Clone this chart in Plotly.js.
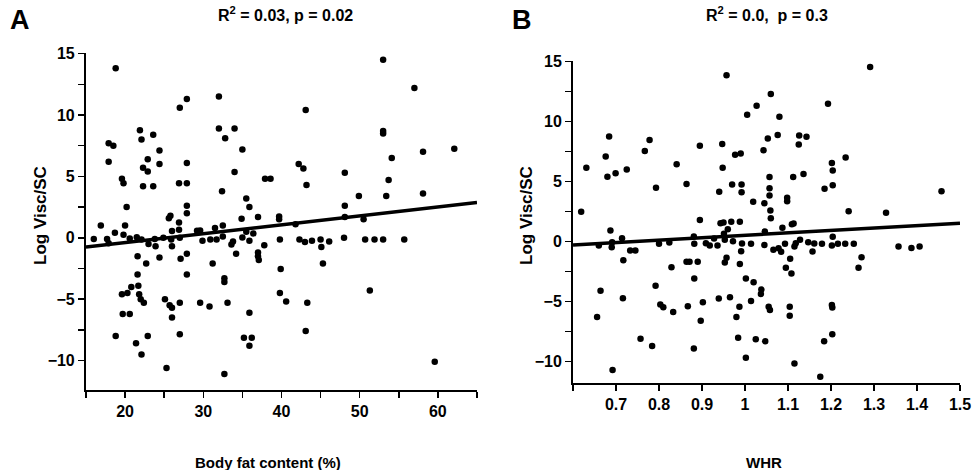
<!DOCTYPE html>
<html><head><meta charset="utf-8">
<script src="https://cdn.plot.ly/plotly-3.0.1.min.js"></script>
<style>body{margin:0;background:#fff}#c{width:978px;height:470px}</style>
</head><body><div id="c"></div>
<script>
const fatX=[18.8,53.0,57.0,32.0,27.9,27.0,43.1,21.9,22.1,23.6,32.0,34.0,32.8,17.9,18.5,35.0,24.4,53.0,53.0,58.1,62.1,17.9,22.9,24.4,27.9,22.3,22.9,54.1,42.2,42.8,34.0,48.1,19.6,19.8,26.9,27.9,37.9,38.6,53.7,22.3,23.6,43.2,32.4,58.1,49.9,53.4,35.5,20.2,27.9,27.9,35.9,48.1,25.8,25.6,34.9,37.0,39.7,50.5,48.1,16.9,20.0,26.9,32.5,26.9,26.0,31.5,29.2,35.5,36.4,39.7,41.8,16.0,17.7,18.7,19.8,20.6,21.5,22.1,23.8,24.9,27.0,25.9,29.6,29.9,30.9,31.7,32.5,33.8,33.6,35.0,35.9,39.8,42.3,43.0,43.9,45.0,46.1,48.0,50.7,51.9,53.0,55.7,17.9,23.0,23.9,26.0,45.1,37.8,34.2,21.6,24.4,27.9,27.1,37.0,37.0,37.1,22.7,31.2,45.3,39.9,27.9,21.6,32.7,32.7,20.8,20.3,19.6,21.7,21.8,22.0,22.4,25.1,25.7,26.0,26.0,27.0,29.6,30.8,33.1,39.8,40.6,43.3,35.9,51.3,19.7,20.6,18.8,21.4,22.9,22.1,27.0,35.2,36.2,35.9,43.1,25.3,32.7,59.6];
const fatY=[13.8,14.5,12.2,11.5,11.3,10.6,10.4,8.75,8.0,8.4,8.9,8.9,8.1,7.7,7.5,7.2,7.1,8.7,8.5,7.0,7.25,6.2,6.4,6.0,6.1,5.7,5.4,6.5,6.0,5.65,5.35,5.3,4.8,4.45,4.45,4.45,4.8,4.8,4.7,4.2,4.2,4.3,3.8,3.6,3.4,3.4,3.2,2.5,2.6,2.0,2.5,2.6,1.8,1.6,1.55,1.7,1.74,1.5,1.7,1.0,1.0,1.25,1.0,0.65,0.55,0.8,0.57,0.5,0.35,1.5,1.1,-0.1,-0.1,0.4,0.25,-0.05,0.05,-0.15,-0.1,0,0,-0.15,0.6,-0.25,-0.15,-0.15,0.1,-0.3,-0.55,0.03,-0.25,-0.15,-0.15,-0.35,-0.25,-0.15,-0.3,0,-0.15,-0.15,-0.15,-0.15,-0.45,-0.5,-0.7,-0.7,-0.75,-0.6,-1.3,-1.5,-1.6,-1.3,-1.7,-1.2,-1.5,-1.8,-2.1,-2.1,-2.1,-2.55,-3.0,-3.0,-3.3,-3.6,-4.0,-4.5,-4.6,-3.9,-4.6,-5.0,-5.3,-5.0,-5.5,-5.7,-6.5,-5.3,-5.3,-5.6,-5.3,-4.5,-5.2,-5.3,-6.1,-4.3,-6.2,-6.2,-8.0,-8.6,-8.0,-9.5,-7.85,-8.15,-8.15,-8.8,-7.6,-10.6,-11.1,-10.1];
const fitA_X=[15,65], fitA_Y=[-0.76,2.88];
const whrX=[0.619,0.631,0.656,0.664,0.66,0.676,0.680,0.684,0.687,0.691,0.69,0.692,0.699,0.714,0.717,0.716,0.725,0.733,0.745,0.757,0.767,0.778,0.784,0.792,0.793,0.800,0.803,0.810,0.829,0.833,0.841,0.824,0.864,0.867,0.864,0.871,0.890,0.881,0.882,0.882,0.881,0.895,0.895,0.897,0.902,0.909,0.918,0.928,0.936,0.939,0.940,0.947,0.948,0.943,0.950,0.951,0.953,0.953,0.957,0.957,0.960,0.965,0.968,0.970,0.972,0.977,0.980,0.984,0.987,0.988,0.988,0.990,0.991,0.992,0.992,0.993,1.002,1.002,1.005,1.014,1.014,1.020,1.019,1.025,1.027,1.037,1.038,1.043,1.045,1.046,1.045,1.047,1.053,1.055,1.058,1.057,1.057,1.057,1.059,1.060,1.060,1.066,1.076,1.078,1.080,1.084,1.087,1.093,1.098,1.098,1.095,1.105,1.104,1.104,1.108,1.109,1.112,1.113,1.115,1.115,1.118,1.126,1.125,1.128,1.136,1.143,1.147,1.157,1.161,1.175,1.179,1.184,1.185,1.193,1.202,1.204,1.204,1.204,1.202,1.202,1.203,1.203,1.216,1.233,1.234,1.241,1.253,1.264,1.271,1.291,1.328,1.357,1.387,1.406,1.457];
const whrY=[2.47,6.14,-6.28,-4.1,-0.33,7.08,5.39,8.75,0.92,-0.06,-0.47,-10.7,5.69,0.28,-1.56,-4.72,6.0,-0.75,-0.75,-8.1,7.53,8.44,-8.7,-3.69,4.47,-0.19,-5.25,-5.47,-2.14,-5.86,6.44,-0.08,4.78,-5.39,-1.69,-1.69,-1.69,0.42,-0.19,-3.08,-8.9,7.97,1.8,-6.6,-5.06,-0.14,-0.33,0.25,-0.33,-4.75,4.14,8.11,6.14,1.53,1.58,0.64,0.14,-1.75,-1.36,13.83,1.03,-4.64,1.64,4.75,0.03,7.22,-6.28,-8.0,-5.42,-1.86,1.64,7.33,-0.8,4.11,4.75,-0.17,-3.08,-9.67,10.56,-0.19,-4.94,-3.39,3.3,-8.14,11.3,-4.36,-4.0,7.6,3.19,0.83,-0.28,-8.3,8.58,-5.42,-5.69,5.36,4.44,3.83,2.58,1.94,12.28,-0.69,8.86,-0.56,10.39,-0.86,1.14,-0.19,3.64,3.36,-2.19,-1.44,-5.42,-6.17,-2.67,1.44,5.36,1.5,-10.14,-0.42,-0.14,8.83,8.08,0.14,5.61,8.72,-0.06,-0.83,-0.17,-11.25,-0.19,-8.3,4.39,11.47,6.53,5.92,4.69,0.39,-0.33,-5.28,-5.5,-7.72,-0.19,-0.19,7.0,2.53,-0.19,-2.19,-1.31,14.53,2.39,-0.42,-0.53,-0.42,4.19];
const fitB_X=[0.6,1.5], fitB_Y=[-0.28,1.53];
const yTicks=[15,10,5,0,-5,-10];
const whrTicks=[0.7,0.8,0.9,1,1.1,1.2,1.3,1.4,1.5];

const F='Liberation Sans, Arial, sans-serif';
const mk={color:'#000',size:6.5};
const mn={ticks:'outside',ticklen:6,tickcolor:'#000',tickwidth:1.5};
const ax=(o)=>Object.assign({showline:true,linecolor:'#000',linewidth:2,mirror:false,zeroline:false,showgrid:false,
  ticks:'outside',ticklen:6,tickwidth:1.5,tickcolor:'#000',tickfont:{family:F,size:16,color:'#000',weight:'bold'}},o);
const data=[
 {x:fatX,y:fatY,mode:'markers',type:'scatter',marker:mk,xaxis:'x',yaxis:'y'},
 {x:fitA_X,y:fitA_Y,mode:'lines',line:{color:'#000',width:3.5},xaxis:'x',yaxis:'y'},
 {x:whrX,y:whrY,mode:'markers',type:'scatter',marker:mk,xaxis:'x2',yaxis:'y2'},
 {x:fitB_X,y:fitB_Y,mode:'lines',line:{color:'#000',width:3.5},xaxis:'x2',yaxis:'y2'}
];
const layout={width:978,height:470,margin:{l:0,r:0,t:0,b:0},showlegend:false,paper_bgcolor:'#fff',plot_bgcolor:'#fff',
 xaxis:ax({domain:[0.0879,0.4877],range:[15,65],tickvals:[20,30,40,50,60],minor:Object.assign({dtick:5,tick0:0},mn)}),
 yaxis:ax({domain:[0.1702,0.8872],range:[-12.4,15.05],tickvals:yTicks,minor:Object.assign({dtick:2.5,tick0:0},mn)}),
 xaxis2:ax({anchor:'y2',domain:[0.5859,0.9816],range:[0.6,1.5],tickvals:whrTicks,ticktext:whrTicks.map(String),minor:Object.assign({dtick:0.1,tick0:0},mn)}),
 yaxis2:ax({anchor:'x2',domain:[0.1857,0.8709],range:[-11.75,15.05],tickvals:yTicks,minor:Object.assign({dtick:2.5,tick0:0},mn)}),
 annotations:[
  {text:'<b>A</b>',x:20,y:20,font:{family:F,size:27,color:'#000'}},
  {text:'<b>B</b>',x:522,y:20,font:{family:F,size:27,color:'#000'}},
  {text:'<b>R<sup>2</sup> = 0.03, p = 0.02</b>',x:285,y:14,font:{family:F,size:16,color:'#000'}},
  {text:'<b>R<sup>2</sup> = 0.0,  p = 0.3</b>',x:767,y:14,font:{family:F,size:16,color:'#000'}},
  {text:'<b>Body fat content (%)</b>',x:268,y:462,font:{family:F,size:15,color:'#000'}},
  {text:'<b>WHR</b>',x:764,y:462,font:{family:F,size:15,color:'#000'}},
  {text:'<b>Log Visc/SC</b>',x:40,y:216,textangle:-90,font:{family:F,size:17,color:'#000'}},
  {text:'<b>Log Visc/SC</b>',x:526,y:216,textangle:-90,font:{family:F,size:17,color:'#000'}}
 ]
};
layout.annotations.forEach(a=>{a.xref='paper';a.yref='paper';a.showarrow=false;a.x=a.x/978;a.y=1-a.y/470;a.xanchor='center';a.yanchor='middle';});
Plotly.newPlot('c',data,layout,{staticPlot:true});
</script></body></html>
